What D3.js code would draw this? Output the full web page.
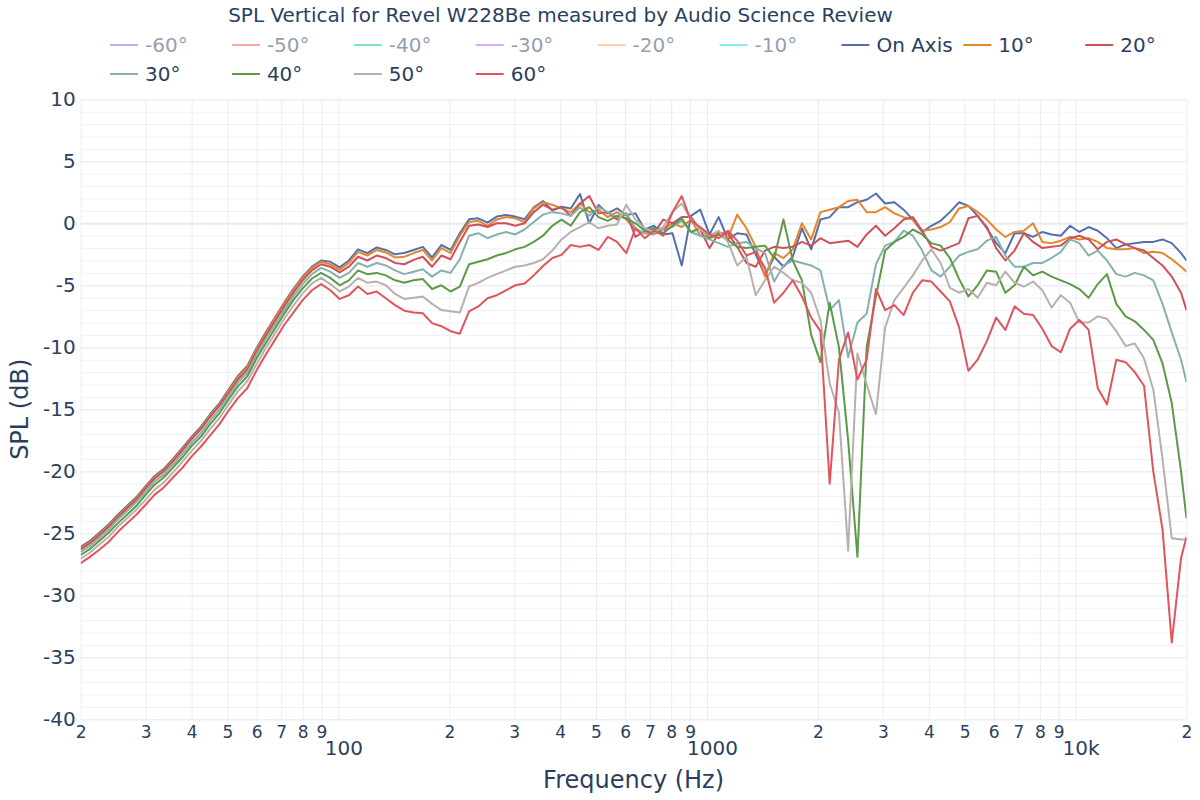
<!DOCTYPE html>
<html><head><meta charset="utf-8">
<script src="https://cdn.jsdelivr.net/npm/d3@7"></script>
<style>
body{margin:0;background:#fff}
svg{display:block}
text{font-family:"DejaVu Sans",Verdana,sans-serif;fill:#2a3f5f}
</style></head>
<body><svg id="c" width="1200" height="800"></svg>
<script>
const title = "SPL Vertical for Revel W228Be measured by Audio Science Review";
const xTitle = "Frequency (Hz)";
const yTitle = "SPL (dB)";
const freqs = [20,21.2,22.4,23.8,25.2,26.7,28.3,30,31.7,33.6,35.6,37.8,40,42.4,44.9,47.6,50.4,53.4,56.6,59.9,
63.5,67.3,71.3,75.5,80,84.8,89.8,95.1,100.8,106.8,113.1,119.9,127,134.5,142.5,151,160,169.5,179.6,190.3,
201.6,213.6,226.3,239.7,254,269.1,285.1,302,320,339,359.2,380.6,403.2,427.1,452.5,479.4,508,538.2,570.2,604.1,
640,678,718.4,761.1,806.3,854.3,905.1,958.9,1016,1076,1140,1208,1280,1356,1437,1522,1613,1709,1810,1918,
2032,2153,2281,2416,2560,2712,2874,3044,3225,3417,3620,3836,4064,4305,4561,4833,5120,5424,5747,6089,
6451,6834,7241,7671,8127,8611,9123,9665,10240,10850,11490,12170,12900,13670,14480,15340,16250,17220,18240,19330,20000];

const onAxis = [-26.1,-25.6,-25.0,-24.3,-23.5,-22.8,-22.1,-21.2,-20.4,-19.8,
-19.0,-18.1,-17.2,-16.4,-15.4,-14.5,-13.4,-12.3,-11.5,-10.1,
-8.8,-7.6,-6.4,-5.3,-4.3,-3.5,-3.0,-3.1,-3.55,-3.0,
-2.1,-2.4,-1.95,-2.15,-2.5,-2.4,-2.15,-1.9,-2.75,-1.75,
-2.15,-0.8,0.32,0.4,0.05,0.54,0.67,0.54,0.32,1.29,
1.8,1.02,1.34,1.2,2.36,0.0,1.48,0.8,1.2,0.67,
0.8,-0.5,-0.2,-0.9,-0.8,-3.4,0.6,1.1,-0.9,0.5,
-1.3,-0.8,-0.9,-2.5,-4.2,-2.7,-3.5,-2.7,-0.4,-2.1,
0.3,0.5,1.3,1.3,1.7,1.9,2.4,1.6,1.7,1.1,
0.3,-0.7,-0.2,0.2,0.9,1.7,1.4,0.6,-0.4,-1.6,
-2.4,-0.8,-0.8,-1.1,-0.7,-0.9,-1.0,-0.2,-0.7,-0.3,
-0.6,-1.2,-2.0,-1.7,-1.6,-1.5,-1.5,-1.3,-1.6,-2.4,-3.0];

const deg10 = [-26.2,-25.7,-25.1,-24.4,-23.6,-22.9,-22.2,-21.3,-20.5,-19.9,
-19.1,-18.2,-17.3,-16.5,-15.5,-14.6,-13.5,-12.4,-11.6,-10.2,
-8.9,-7.7,-6.5,-5.4,-4.4,-3.6,-3.1,-3.3,-3.75,-3.2,
-2.3,-2.6,-2.15,-2.35,-2.75,-2.7,-2.4,-2.15,-3.0,-2.0,
-2.4,-1.0,0.1,0.2,-0.2,0.3,0.5,0.4,0.1,1.2,
1.7,1.5,1.2,0.9,1.6,0.9,1.1,0.5,0.9,0.3,
-0.5,-0.8,-0.5,-0.4,0.0,-0.3,0.3,-1.0,-1.1,-0.7,
-1.2,0.7,-0.4,-1.9,-4.3,-2.4,-2.8,-2.1,0.0,-1.3,
0.9,1.1,1.3,1.8,1.9,0.9,0.9,1.3,0.8,0.5,
0.3,-0.6,-0.5,-0.3,0.1,1.2,1.4,0.9,0.3,-0.5,
-1.1,-0.7,-0.6,0.0,-1.5,-1.6,-1.4,-1.1,-1.3,-1.2,
-1.5,-2.0,-2.1,-2.1,-2.0,-2.4,-2.3,-2.4,-2.9,-3.5,-3.9];

const deg20 = [-26.3,-25.8,-25.2,-24.5,-23.7,-23.0,-22.3,-21.4,-20.6,-20.0,
-19.2,-18.3,-17.4,-16.6,-15.6,-14.7,-13.7,-12.6,-11.8,-10.4,
-9.1,-7.9,-6.7,-5.6,-4.6,-3.8,-3.3,-3.5,-3.95,-3.5,
-2.7,-3.0,-2.6,-2.8,-3.2,-3.3,-2.95,-2.7,-3.5,-2.6,
-2.9,-1.5,-0.2,-0.1,-0.3,0.0,0.0,-0.2,0.0,0.9,
1.5,1.1,1.3,0.6,1.6,2.2,0.8,0.9,0.3,0.8,
-1.1,-0.6,-0.8,0.3,0.0,0.5,0.5,-0.5,-2.0,-0.8,
-0.8,-1.9,-3.2,-3.5,-2.2,-1.9,-2.0,-1.9,-1.5,-1.8,
-1.2,-1.6,-1.5,-1.4,-1.9,-0.9,-0.2,-1.0,-0.4,0.3,
0.5,-0.6,-1.9,-2.2,-1.9,-1.6,0.4,0.6,-0.3,-2.0,
-3.0,-2.2,-0.8,-1.5,-2.0,-1.9,-1.8,-1.2,-1.0,-1.3,
-2.1,-1.5,-1.3,-1.7,-2.0,-2.2,-2.8,-3.4,-4.3,-5.6,-7.0];

const deg30 = [-26.5,-26.0,-25.4,-24.7,-23.9,-23.2,-22.5,-21.65,-20.85,-20.25,
-19.45,-18.55,-17.7,-16.9,-15.9,-15.0,-13.9,-12.85,-12.05,-10.65,
-9.35,-8.2,-7.0,-5.9,-4.9,-4.1,-3.6,-3.9,-4.4,-4.0,
-3.2,-3.5,-3.2,-3.4,-3.8,-4.1,-3.9,-3.7,-4.3,-3.8,
-4.0,-2.9,-1.0,-0.8,-1.2,-0.9,-0.7,-0.9,-0.5,0.1,
0.7,0.9,0.8,0.6,1.3,0.6,1.3,0.9,0.5,0.8,
-0.4,-0.8,-0.9,-0.5,-0.3,0.2,-0.7,-1.0,-1.3,-1.6,
-1.9,-1.6,-1.5,-2.0,-2.4,-4.7,-3.4,-3.0,-3.2,-3.4,
-3.8,-7.0,-6.2,-10.8,-8.0,-7.3,-3.3,-1.8,-1.5,-0.6,
-1.0,-2.2,-3.8,-4.3,-3.5,-2.6,-2.3,-2.1,-1.4,-1.1,
-2.6,-3.5,-3.5,-3.2,-3.2,-2.8,-2.3,-1.3,-1.6,-2.6,
-2.2,-3.0,-4.1,-4.3,-4.0,-4.2,-4.6,-6.5,-8.8,-11.0,-12.8];

const deg40 = [-26.75,-26.25,-25.65,-24.95,-24.2,-23.5,-22.8,-21.9,-21.1,-20.5,
-19.7,-18.85,-17.95,-17.2,-16.2,-15.3,-14.2,-13.15,-12.35,-10.95,
-9.7,-8.5,-7.3,-6.2,-5.25,-4.45,-4.0,-4.4,-5.0,-4.6,
-3.8,-4.1,-4.0,-4.2,-4.6,-4.8,-4.6,-4.5,-5.3,-5.0,
-5.5,-5.1,-3.3,-3.1,-2.9,-2.6,-2.4,-2.1,-1.9,-1.5,
-1.0,-0.2,0.3,-0.2,0.9,1.3,0.5,0.2,0.6,0.4,
0.0,-0.6,-0.4,-0.8,-0.2,0.4,-0.7,-0.4,-1.2,-0.9,
-1.35,-1.9,-2.0,-1.9,-1.8,-2.8,0.3,-3.0,-4.6,-9.0,
-11.2,-6.4,-10.0,-17.5,-26.9,-10.0,-5.9,-2.2,-1.5,-1.1,
-0.5,-0.9,-1.6,-1.8,-2.8,-4.5,-5.9,-5.0,-3.8,-3.9,
-5.6,-5.0,-3.5,-4.2,-3.9,-4.3,-4.6,-4.9,-5.3,-6.0,
-4.9,-4.1,-6.5,-7.5,-7.9,-8.6,-9.4,-11.3,-14.5,-20.0,-23.8];

const deg50 = [-27.05,-26.55,-25.95,-25.3,-24.5,-23.8,-23.1,-22.3,-21.5,-20.9,
-20.1,-19.2,-18.35,-17.55,-16.6,-15.7,-14.6,-13.55,-12.75,-11.4,
-10.1,-8.9,-7.7,-6.65,-5.65,-4.85,-4.4,-4.9,-5.5,-5.1,
-4.4,-4.8,-4.7,-5.0,-5.7,-6.1,-6.0,-5.9,-6.5,-7.0,
-7.1,-7.2,-5.1,-4.8,-4.4,-4.1,-3.8,-3.5,-3.4,-3.2,
-2.9,-2.2,-1.3,-0.7,-0.3,0.1,-0.4,-0.2,-0.1,1.5,
0.3,-0.4,-0.7,-0.3,0.9,1.6,0.3,-0.5,-1.0,-0.6,
-1.5,-3.4,-2.7,-5.8,-4.6,-3.5,-4.0,-4.6,-4.8,-5.6,
-7.8,-12.9,-15.3,-26.4,-10.5,-13.0,-15.4,-8.4,-6.2,-5.2,
-4.2,-3.0,-2.1,-3.2,-5.2,-5.6,-5.3,-6.0,-4.8,-5.0,
-3.9,-4.8,-5.1,-4.7,-5.4,-6.8,-5.8,-6.4,-8.0,-8.0,
-7.5,-7.7,-8.7,-9.9,-9.7,-10.9,-13.4,-19.0,-25.4,-25.5,-25.5];

const deg60 = [-27.4,-26.9,-26.35,-25.7,-24.9,-24.2,-23.5,-22.7,-21.9,-21.3,
-20.5,-19.7,-18.8,-18.0,-17.1,-16.2,-15.1,-14.1,-13.3,-11.9,
-10.6,-9.4,-8.2,-7.2,-6.2,-5.4,-4.9,-5.4,-6.1,-5.8,
-5.1,-5.7,-5.5,-6.05,-6.6,-7.05,-7.2,-7.25,-8.05,-8.3,
-8.7,-8.9,-7.1,-6.7,-6.05,-5.8,-5.4,-5.0,-4.85,-4.2,
-3.45,-2.8,-2.55,-1.75,-1.9,-1.75,-2.15,-1.1,-1.5,-2.4,
-0.4,-1.2,-0.6,-1.0,0.9,2.2,0.2,-0.3,-0.9,-1.2,
-0.6,-1.4,-2.6,-2.3,-3.6,-6.4,-5.6,-4.6,-5.9,-7.6,
-8.7,-21.0,-11.0,-8.8,-12.6,-11.0,-5.3,-7.0,-6.6,-7.4,
-5.6,-4.6,-4.7,-5.5,-6.3,-8.4,-11.9,-11.0,-9.5,-7.6,
-8.6,-6.7,-7.3,-7.4,-8.5,-9.9,-10.4,-8.5,-7.8,-8.6,
-13.3,-14.6,-11.0,-11.2,-12.0,-13.1,-20.0,-24.7,-33.8,-27.0,-25.3];

const legendNames = ["-60°","-50°","-40°","-30°","-20°","-10°","On Axis","10°","20°","30°","40°","50°","60°"];
const legendColors = ["#636efa","#ef553b","#00cc96","#ab63fa","#ffa15a","#19d3f3","#5470aa","#e8842c","#cf4f5b","#85b2ac","#5c9a48","#b8b0ad","#e2545a"];
const legendHidden = [true,true,true,true,true,true,false,false,false,false,false,false,false];
const visibleSeries = [onAxis,deg10,deg20,deg30,deg40,deg50,deg60];

const yMajor = [-40,-35,-30,-25,-20,-15,-10,-5,0,5,10];
const xGrid = [20,30,40,50,60,70,80,90,100,200,300,400,500,600,700,800,900,1000,2000,3000,4000,5000,6000,7000,8000,9000,10000,20000];
const xDecades = [100,1000,10000];
const xDecadeLabels = ["100","1000","10k"];

const svg = d3.select("#c");
const m = {l:80.7, r:1186.5, t:99.3, b:719.3};
const x = d3.scaleLog().domain([20,20000]).range([m.l,m.r]);
const y = d3.scaleLinear().domain([-40,10]).range([m.b,m.t]);

svg.append("rect").attr("width",1200).attr("height",800).attr("fill","#fff");

// grids
const yMinor = d3.range(-40,11,1);
svg.append("g").attr("transform",`translate(${m.l},0)`)
  .call(d3.axisLeft(y).tickValues(yMinor).tickSize(-(m.r-m.l)).tickFormat(""))
  .call(s=>{s.select(".domain").remove(); s.selectAll("line").attr("stroke","#eef2f8").attr("stroke-width",1);});
svg.append("g").attr("transform",`translate(0,${m.b})`)
  .call(d3.axisBottom(x).tickValues(xGrid).tickSize(-(m.b-m.t)).tickFormat(""))
  .call(s=>{s.select(".domain").remove(); s.selectAll("line").attr("stroke","#e8edf5").attr("stroke-width",1);});
svg.append("g").attr("transform",`translate(${m.l},0)`)
  .call(d3.axisLeft(y).tickValues(yMajor).tickSize(-(m.r-m.l)).tickFormat(""))
  .call(s=>{s.select(".domain").remove(); s.selectAll("line").attr("stroke","#e6ebf3").attr("stroke-width",d=>d===0?2:1);});

// axis labels
svg.append("g").attr("transform",`translate(${m.l},0)`)
  .call(d3.axisLeft(y).tickValues(yMajor).tickSize(0).tickPadding(5).tickFormat(d=>String(d)))
  .call(s=>{s.select(".domain").remove(); s.selectAll("text").attr("font-size",20).attr("font-family",null).style("fill","#2a3f5f");});
const xMinorVals = xGrid.filter(v=>xDecades.indexOf(v)<0);
svg.append("g").attr("transform",`translate(0,${m.b})`)
  .call(d3.axisBottom(x).tickValues(xMinorVals).tickSize(0).tickPadding(7).tickFormat(d=>String(d).charAt(0)))
  .call(s=>{s.select(".domain").remove(); s.selectAll("text").attr("font-size",17).attr("font-family",null).style("fill","#2a3f5f");});
svg.append("g").attr("transform",`translate(0,${m.b})`)
  .call(d3.axisBottom(x).tickValues(xDecades).tickSize(0).tickPadding(22).tickFormat((d,i)=>xDecadeLabels[i]))
  .call(s=>{s.select(".domain").remove(); s.selectAll("text").attr("font-size",20).attr("dx",5).attr("font-family",null).style("fill","#2a3f5f");});

// clip
svg.append("clipPath").attr("id","clip").append("rect")
  .attr("x",m.l).attr("y",m.t).attr("width",m.r-m.l).attr("height",m.b-m.t);

const line = d3.line().x(d=>x(d[0])).y(d=>y(d[1]));
const plotG = svg.append("g").attr("clip-path","url(#clip)");
visibleSeries.forEach((vals,k)=>{
  const data = freqs.map((f,i)=>[f,vals[i]]);
  plotG.append("path").datum(data).attr("d",line)
    .attr("fill","none").attr("stroke",legendColors[6+k]).attr("stroke-width",2)
    .attr("stroke-linejoin","round");
});

// titles
svg.append("text").attr("x",560.5).attr("y",15).attr("text-anchor","middle")
  .attr("dominant-baseline","central").attr("font-size",20).text(title);
svg.append("text").attr("x",633.6).attr("y",780).attr("text-anchor","middle")
  .attr("dominant-baseline","central").attr("font-size",24).text(xTitle);
svg.append("text").attr("transform",`translate(20,${(m.t+m.b)/2}) rotate(-90)`).attr("text-anchor","middle")
  .attr("dominant-baseline","central").attr("font-size",24).text(yTitle);

// legend
legendNames.forEach((name,k)=>{
  const row = k<9?0:1, col = k<9?k:k-9;
  const x0 = 110 + col*121.9, yy = 45 + row*29;
  const g = svg.append("g").attr("opacity",legendHidden[k]?0.5:1);
  g.append("line").attr("x1",x0).attr("x2",x0+28).attr("y1",yy).attr("y2",yy)
    .attr("stroke",legendColors[k]).attr("stroke-width",2);
  g.append("text").attr("x",x0+35).attr("y",yy).attr("dominant-baseline","central")
    .attr("font-size",20).text(name);
});
</script></body></html>
